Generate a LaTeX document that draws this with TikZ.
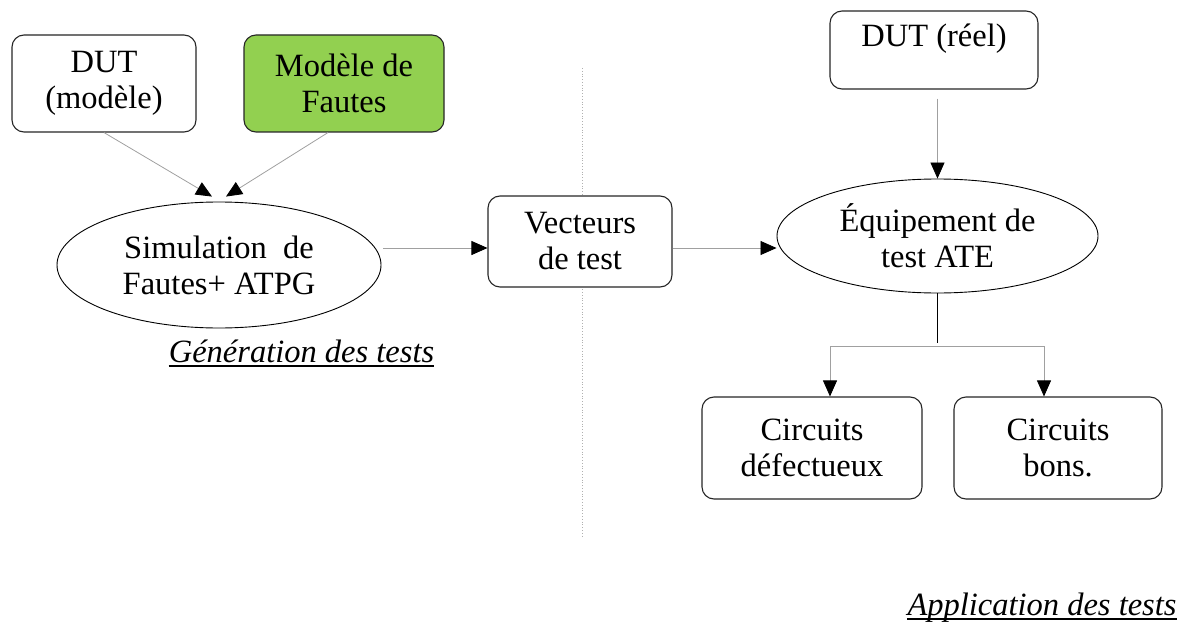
\documentclass[tikz,border=0pt]{standalone}
\usepackage{fontspec}
\setmainfont{Liberation Serif}
\usetikzlibrary{arrows.meta,shapes.geometric}
\definecolor{faultgreen}{HTML}{92D050}
\definecolor{linkgray}{HTML}{A0A0A0}
\definecolor{sepgray}{HTML}{B0B0B0}
\tikzset{
  every node/.style={font=\fontsize{32.5}{36}\selectfont, align=center},
  box/.style={draw=black!85, line width=1.1pt, rounded corners=12pt, fill=white,
              rectangle, inner sep=0pt},
  oval/.style={draw=black, line width=0.9pt, ellipse, fill=white, inner sep=0pt},
  link/.style={draw=linkgray, line width=0.8pt, -{Triangle[length=16pt,width=14pt,black]}},
  caption/.style={font=\fontsize{32.5}{36}\selectfont\itshape, inner sep=0pt, anchor=base},
}
\begin{document}
\begin{tikzpicture}[x=1pt,y=-1pt]
\path[use as bounding box] (0,0) rectangle (1191,623);

% separator between test generation and test application
\draw[sepgray, dotted, line width=0.8pt] (582,68) -- (582,537);

% test generation side
\node[box, minimum width=184pt, minimum height=97pt] (dutm) at (104,83.5) {DUT\\(modèle)};
\node[box, fill=faultgreen, minimum width=200pt, minimum height=97pt] (fautes) at (344,83.5) {Modèle de\\Fautes};
\node[oval, minimum width=324pt, minimum height=126pt] (sim) at (219,265) {Simulation\ \ de\\Fautes+ ATPG};
\node[caption] (gen) at (301.5,362) {Génération des tests};
\draw[line width=1.6pt] ([yshift=-4pt]gen.base west) -- ([yshift=-4pt]gen.base east);

% test vectors
\node[box, minimum width=184pt, minimum height=91pt] (vect) at (580,241.5) {Vecteurs\\de test};

% test application side
\node[box, minimum width=208pt, minimum height=78pt, text height=36pt, text depth=42pt] (dutr) at (934,50) {DUT (réel)};
\node[oval, minimum width=321pt, minimum height=114pt] (ate) at (937.5,236) {Équipement de\\test ATE};
\node[box, minimum width=220pt, minimum height=102pt] (cdef) at (812,448) {Circuits\\défectueux};
\node[box, minimum width=208pt, minimum height=102pt] (cbon) at (1058,448) {Circuits\\bons.};
\node[caption] (app) at (1042,615) {Application des tests};
\draw[line width=1.6pt] ([yshift=-4pt]app.base west) -- ([yshift=-4pt]app.base east);

% connectors
\draw[link] (dutm.south) -- ([xshift=-7pt,yshift=5pt]sim.north);
\draw[link] ([xshift=-16pt]fautes.south) -- ([xshift=7pt,yshift=5pt]sim.north);

\coordinate (simout) at ([xshift=2pt,yshift=17pt]sim.east);
\draw[link] (simout) -- (simout -| vect.west);
\coordinate (vectout) at ([yshift=-6.5pt]vect.east);
\draw[link] (vectout) -- (vectout -| ate.west);

\coordinate (dutrout) at ([yshift=-9pt]dutr.south);
\draw[link] (dutrout -| ate.north) -- (ate.north);

\coordinate (fork) at (937.5,343);
\coordinate (forkl) at (830,346);
\coordinate (forkr) at (1044,346);
\draw[black, line width=0.9pt] (ate.south) -- (fork);
\draw[linkgray, line width=0.8pt] (forkl) -- (forkr);
\draw[link] (forkl) -- (forkl |- cdef.north);
\draw[link] (forkr) -- (forkr |- cbon.north);
\end{tikzpicture}
\end{document}
